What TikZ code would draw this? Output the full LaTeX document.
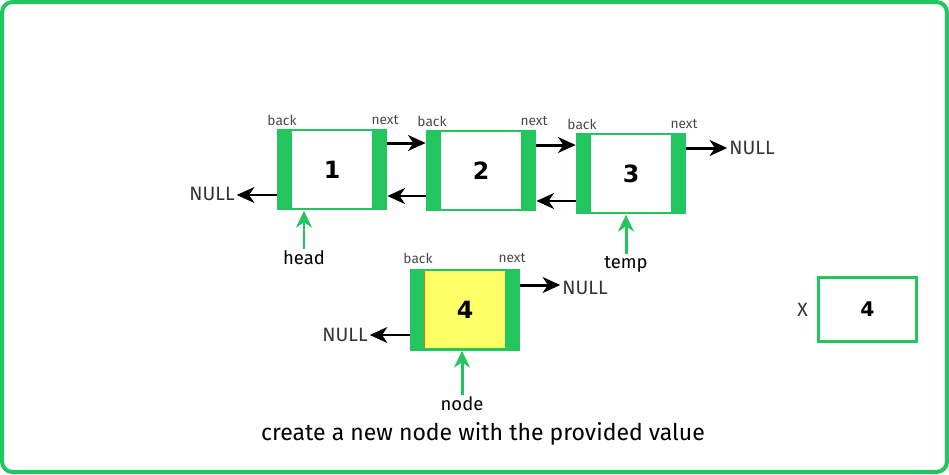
\documentclass[tikz,border=0pt]{standalone}
\usepackage{fontspec}
\setmainfont{Fira Sans}
\newfontfamily\numfont{DejaVu Sans}
\usetikzlibrary{arrows.meta}
\definecolor{gr}{HTML}{22C55E}
\definecolor{yl}{HTML}{FFFF66}
\definecolor{tx}{HTML}{333333}
\definecolor{lb}{HTML}{484848}

\tikzset{
  cell/.style={fill=gr, inner sep=0pt, minimum width=2.2cm, minimum height=1.64cm},
  inner/.style={fill=#1, inner sep=0pt, minimum width=1.6cm, minimum height=1.54cm},
  num/.style={font=\numfont\bfseries\fontsize{13.5}{14}\selectfont},
  lbl/.style={text=lb, font=\fontsize{7.8}{8}\selectfont, inner sep=0pt},
  nul/.style={text=tx, font=\fontsize{11}{12}\selectfont, inner sep=1pt},
  ptr/.style={font=\fontsize{10.5}{11}\selectfont, inner sep=1pt},
  link/.style={-{Stealth[length=10pt,width=9pt,inset=3pt]}, line width=1.7pt},
  gptr/.style={-{Stealth[length=9.5pt,width=9pt,inset=3pt]}, line width=1.7pt, gr}
}

\begin{document}
\begin{tikzpicture}[x=0.02cm,y=-0.02cm]
  \useasboundingbox (0,0) rectangle (949,474);
  \draw[gr, line width=2.3pt, rounded corners=6pt] (2,2) rectangle (947,472);

  % list nodes
  \node[cell] (n1) at (332,169.5) {};
  \node[inner=white] (i1) at (n1) {};
  \node[num] at (n1) {1};
  \node[cell] (n2) at (481,170.5) {};
  \node[inner=white] (i2) at (n2) {};
  \node[num] at (n2) {2};
  \node[cell] (n3) at (631,173.5) {};
  \node[inner=white] (i3) at (n3) {};
  \node[num] at (n3) {3};

  \node[lbl] at (282,120) {back};
  \node[lbl] at (385,120) {next};
  \node[lbl] at (432,121) {back};
  \node[lbl] at (534,121) {next};
  \node[lbl] at (582,124) {back};
  \node[lbl] at (684,124) {next};

  % links
  \draw[link] ([yshift=0.53cm]n1.east) -- ([yshift=0.53cm]n1.east -| n2.west);
  \draw[link] ([yshift=-0.51cm]n2.west) -- ([yshift=-0.51cm]n2.west -| n1.east);
  \draw[link] ([yshift=0.51cm]n2.east) -- ([yshift=0.51cm]n2.east -| n3.west);
  \draw[link] ([yshift=-0.55cm]n3.west) -- ([yshift=-0.55cm]n3.west -| n2.east);

  \node[nul] (null1) at (212,194) {NULL};
  \node[nul] (null2) at (752,148) {NULL};
  \coordinate (p1) at ([yshift=-0.51cm]n1.west);
  \coordinate (p3) at ([yshift=0.51cm]n3.east);
  \draw[link] (p1) -- (null1.east |- p1);
  \draw[link] (p3) -- (null2.west |- p3);

  % pointers
  \node[ptr] (head) at (304,258) {head};
  \node[ptr] (temp) at (626,264) {temp};
  \draw[gptr] (head.north) -- (head.north |- n1.south);
  \draw[gptr] (temp.north) -- (temp.north |- n3.south);

  % new node
  \node[cell] (n4) at (465,309.5) {};
  \node[inner=yl] (i4) at (464.5,309.5) {};
  \draw[orange!80!red, line width=0.5pt] (i4.north west) -- (i4.south west);
  \node[num] at (n4) {4};
  \node[lbl] at (418,258) {back};
  \node[lbl] at (512,258) {next};
  \node[nul] (null3) at (585,288) {NULL};
  \node[nul] (null4) at (345,335) {NULL};
  \coordinate (p4a) at ([yshift=0.49cm]n4.east);
  \coordinate (p4b) at ([yshift=-0.51cm]n4.west);
  \draw[link] (p4a) -- (null3.west |- p4a);
  \draw[link] (p4b) -- (null4.east |- p4b);
  \node[ptr] (node) at (462,404) {node};
  \draw[gptr] (node.north) -- (node.north |- n4.south);

  % value box
  \node[draw=gr, line width=1.7pt, minimum width=1.96cm, minimum height=1.28cm,
        font=\numfont\bfseries\fontsize{11.5}{12}\selectfont] (xbox) at (867.5,309.5) {4};
  \node[nul, left=4pt] (xlbl) at (xbox.west) {X};

  \node[font=\fontsize{13.1}{14}\selectfont] (cap) at (483,434) {create a new node with the provided value};
\end{tikzpicture}
\end{document}
